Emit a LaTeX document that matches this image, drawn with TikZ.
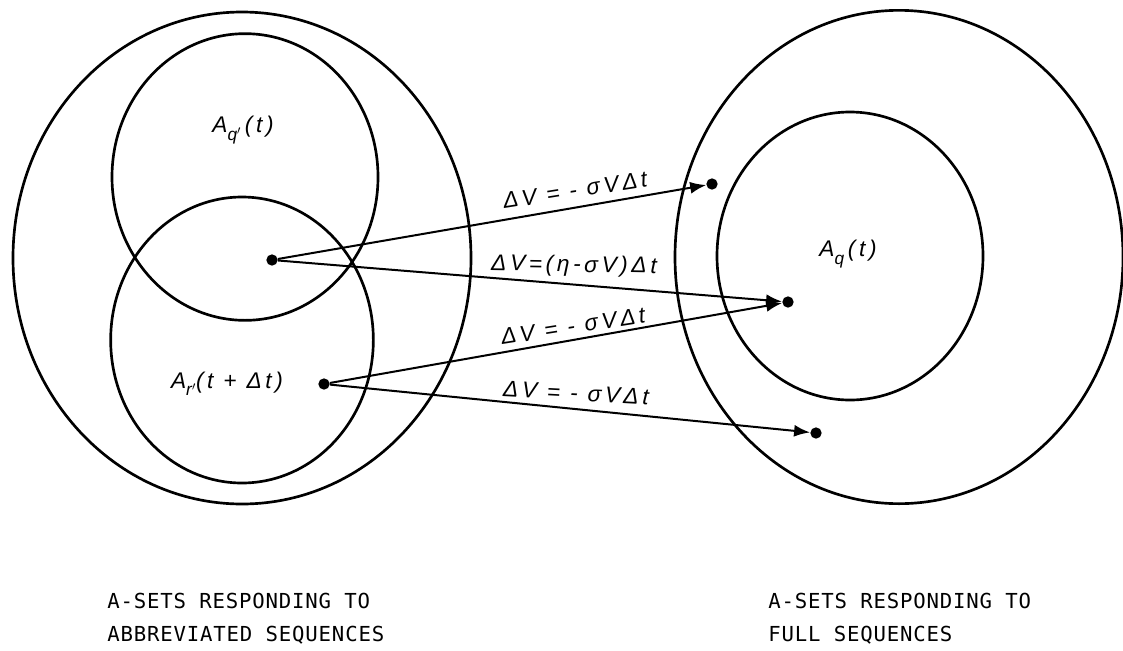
\documentclass[tikz,border=0pt]{standalone}
\usepackage{fontspec}
\usetikzlibrary{shapes.geometric,arrows.meta}
\newfontfamily\handfont[LetterSpace=16]{Liberation Sans}
\newfontfamily\typefont[LetterSpace=4]{DejaVu Sans Mono}
\begin{document}
\begin{tikzpicture}[x=0.75pt,y=-0.75pt,
  setring/.style={draw,ellipse,line width=2pt,inner sep=0pt},
  pt/.style={circle,fill=black,minimum size=8.5pt,inner sep=0pt},
  flow/.style={line width=1.5pt,-{Latex[length=12pt,width=9pt]}},
  hand/.style={font=\handfont\itshape\fontsize{17}{17}\selectfont,inner sep=0pt},
  sub/.style={},
  caption/.style={font=\typefont\fontsize{15.5}{25}\selectfont,align=left,anchor=north west,inner sep=0pt}]
\useasboundingbox (0,0) rectangle (1123,650);
% left group
\node[setring,minimum width=343.5pt,minimum height=369pt] (Lbig) at (242,258) {};
\node[setring,minimum width=199.5pt,minimum height=215pt] (Lup) at (245,177) {};
\node[setring,minimum width=197pt,minimum height=214.5pt] (Llow) at (242,340) {};
% right group
\node[setring,minimum width=336pt,minimum height=370pt] (Rbig) at (899,257) {};
\node[setring,minimum width=199.5pt,minimum height=216pt] (Rin) at (850,256) {};
% labels in sets
\node[hand] (lq) at (243,130) {A\raisebox{-0.6ex}{\fontsize{13}{13}\selectfont q$'$}\,(t)};
\node[hand] (lr) at (227,384) {A\raisebox{-0.6ex}{\fontsize{13}{13}\selectfont r$'$}(t + Δt)};
\node[hand] (lqq) at (848,254) {A\raisebox{-0.6ex}{\fontsize{13}{13}\selectfont q}\,(t)};
% points
\node[pt] (p1) at (272,260) {};
\node[pt] (p2) at (324,384) {};
\node[pt] (t1) at (712,184) {};
\node[pt] (t2) at (788,302) {};
\node[pt] (t3) at (816,433) {};
% connectors
\draw[flow] (p1) -- (t1);
\draw[flow] (p1) -- (t2);
\draw[flow] (p2) -- (t2);
\draw[flow] (p2) -- (t3);
% connector labels
\node[hand,rotate=9] (e1) at (575,190) {ΔV = - σVΔt};
\node[hand,rotate=-1] (e2) at (574,266) {ΔV=(η-σV)Δt};
\node[hand,rotate=9] (e3) at (573,326) {ΔV = - σVΔt};
\node[hand,rotate=-3] (e4) at (576,393) {ΔV = - σVΔt};
% captions
\node[caption] (c1) at (107,593) {A-SETS RESPONDING TO\\ABBREVIATED SEQUENCES};
\node[caption] (c2) at (768,593) {A-SETS RESPONDING TO\\FULL SEQUENCES};
\end{tikzpicture}
\end{document}
